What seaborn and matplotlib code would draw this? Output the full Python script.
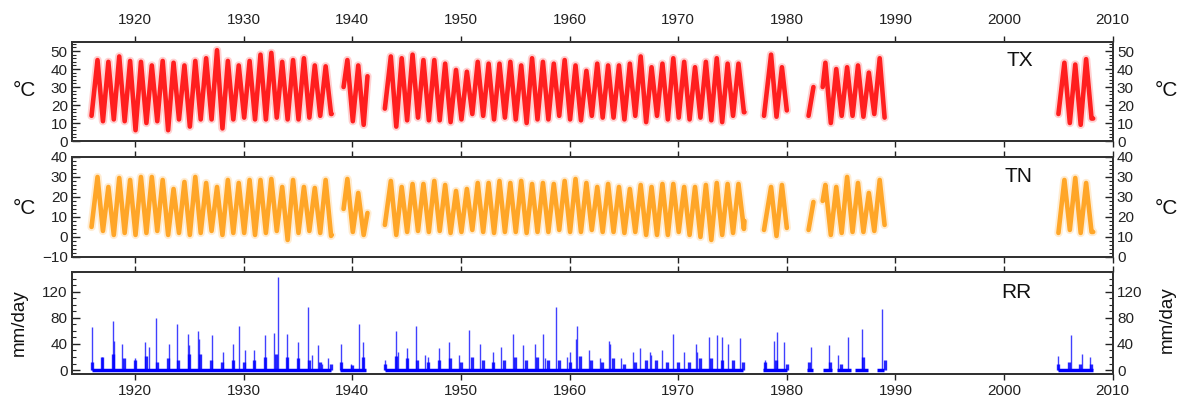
import matplotlib
matplotlib.use("Agg")
import matplotlib.pyplot as plt
import matplotlib.ticker as mticker
import pandas as pd
import seaborn as sns

# continuous stretches of the station record (decimal years)
seg_start = [1916.0, 1939.2, 1943.0, 1977.9, 1982.0, 1983.3, 2005.0]
seg_end = [1938.1, 1941.4, 1976.1, 1980.0, 1982.45, 1989.0, 2008.2]

# value at the first / last day of each stretch
tx_seg_v0 = [14, 30, 18, 14, 14, 30, 15]
tx_seg_v1 = [15, 36, 16, 17, 30, 13, 12.5]
tn_seg_v0 = [5, 14, 6, 3.5, 3.5, 18, 2]
tn_seg_v1 = [1, 12, 8, 4.5, 17.5, 6, 2.5]

# summer maxima (mid-year)
peak_years = [*range(1916, 1938), 1939, 1940, *range(1943, 1976),
              1978, 1979, *range(1983, 1989), 2005, 2006, 2007]
tx_peak = [45, 44, 47, 44.5, 44, 42, 44.5, 43.5, 42, 44.5, 46, 50.5, 44.5, 42, 44.5,
           48, 49, 44, 45, 46, 42, 41.5,
           45, 42,
           47, 46, 48, 45, 45, 43, 39.5, 38.5, 44, 43, 43, 44, 42, 46, 44, 43, 45, 42,
           39, 43, 42, 42, 43, 47, 41, 43, 46, 44, 41, 44, 46, 43, 43,
           48, 41,
           43.5, 40, 41, 42, 38, 46,
           43.5, 42.5, 45.5]
tn_peak = [30, 25, 29.5, 28.5, 30, 30, 28.5, 24, 27.5, 30, 27, 25, 28.5, 27, 28.5,
           28.5, 29, 25, 28.5, 25, 24.5, 28.5,
           29, 22,
           28, 25, 26.5, 26.5, 28, 26, 23, 24, 27, 27, 28, 27, 28, 26.5, 27, 26.5, 28,
           29, 27, 25, 26.5, 25, 24, 26, 25, 26.5, 26.5, 25, 25, 26, 27, 26.5, 26.5,
           25, 26,
           26, 25, 30, 27, 22, 28.5,
           28.5, 29.5, 27]

# winter minima (early in the year)
trough_years = [*range(1917, 1939), 1940, 1941, *range(1944, 1977),
                1979, *range(1984, 1989), 2006, 2007, 2008]
tx_trough = [11, 12, 11, 6, 10, 11, 6, 12, 8, 12, 12, 7, 12, 13, 12, 12, 13, 12, 12,
             13, 14, 15,
             11, 9,
             8, 11.5, 13, 11.5, 11.5, 10.5, 12, 15, 14, 12, 13, 12, 10, 12, 12, 14,
             12, 11.5, 14, 13, 13, 12, 14, 10.5, 14, 12, 13, 12, 13, 11.5, 10.5, 14, 16,
             13.5,
             10, 14, 14, 13.5, 15,
             10, 9, 12.5]
tn_trough = [3, 1, 2, 1, 2, 3, 1, 2, 1, 2, 3, 1, 2, 2, 1, 2, 3, -1.5, 2, 3, 2, 0.5,
             2.5, 1,
             1, 2.5, 3, 2.5, 3, 2, 2.5, 3.5, 2.5, 2, 2.5, 2.5, 2, 2.5, 2.5, 3.5, 2.5,
             2.5, 3.5, 2.5, 2.5, 2, 2.5, 1, 1, 1, 2.5, 1, 0, -1.5, 1, 2, 4,
             0.5,
             1, 2, 2.5, 2.5, 3,
             3.5, 2, 2.5]

# daily rainfall: the single wet days that stand out (date, mm/day)
rr_dates = [1916.05, 1917.0, 1917.95, 1918.05, 1918.8, 1920.0, 1920.9, 1921.3, 1921.9,
            1923.1, 1923.9, 1924.9, 1925.0, 1925.8, 1925.9, 1927.1, 1928.1, 1929.05,
            1929.6, 1930.1, 1931.0, 1932.0, 1932.8, 1933.15, 1934.0, 1935.0, 1935.9,
            1936.3, 1936.8, 1937.2, 1937.8, 1939.0, 1939.9, 1940.6, 1941.0, 1943.0,
            1944.05, 1944.2, 1945.0, 1945.9, 1946.7, 1947.0, 1948.0, 1948.9, 1949.8,
            1950.75, 1951.8, 1952.95, 1953.7, 1954.8, 1955.7, 1956.8, 1957.6, 1957.7,
            1958.75, 1959.75, 1960.0, 1960.6, 1960.7, 1961.8, 1962.8, 1963.6, 1963.7,
            1964.7, 1965.85, 1966.5, 1967.4, 1967.5, 1968.5, 1969.5, 1970.5, 1971.6,
            1971.7, 1972.8, 1973.6, 1974.0, 1974.6, 1975.7, 1978.0, 1978.8, 1979.1,
            1979.7, 1982.2, 1983.9, 1984.7, 1985.6, 1986.9, 1988.8, 2005.0, 2006.2,
            2007.2, 2007.9]
rr_vals = [66, 20, 75, 45, 40, 18, 43, 35, 79,
           40, 70, 55, 38, 60, 48, 53, 28, 40,
           67, 30, 30, 53, 57, 143, 55, 43, 96,
           23, 38, 10, 18, 40, 10, 70, 43, 15,
           60, 28, 33, 67, 23, 20, 33, 43, 23,
           62, 40, 28, 35, 55, 38, 40, 55, 18,
           96, 20, 28, 48, 67, 30, 18, 45, 40,
           18, 28, 33, 28, 23, 30, 55, 28, 40,
           28, 50, 53, 51, 40, 49, 15, 45, 58,
           43, 36, 39, 23, 50, 63, 93, 22, 53,
           24, 20]

# the dense run of smaller wet days in each rainy season
rr_bulk_years = [*range(1916, 1939), 1939, 1940, 1941, *range(1943, 1977),
                 1978, 1979, 1980, 1982, 1984, 1985, 1987, 1989,
                 2005, 2006, 2007, 2008]
rr_bulk = [12, 20, 25, 18, 15, 22, 12, 18, 15, 25, 25, 15, 12, 15, 12, 15, 20, 25,
           20, 18, 15, 12, 10,
           12, 8, 20,
           10, 22, 18, 15, 12, 15, 18, 12, 20, 15, 12, 15, 20, 15, 20, 15, 15, 12,
           22, 15, 12, 18, 10, 12, 15, 15, 12, 12, 12, 18, 18, 15, 15, 12,
           12, 15, 10, 12, 12, 10, 20, 15,
           10, 12, 10, 10]

# stretches with rain observations
rr_start = [1916.0, 1938.9, 1943.0, 1977.8, 1981.9, 1983.3, 1984.6, 1986.3, 1988.3, 2005.0]
rr_end = [1938.0, 1941.3, 1976.0, 1980.0, 1982.4, 1984.2, 1985.9, 1987.5, 1988.9, 2008.2]

tn_right_labels = ["0", "10", "20", "30", "30", "40"]


def build_series(v0, v1, troughs, peaks):
    rows = []
    for k, (a, b) in enumerate(zip(seg_start, seg_end)):
        pts = [(a, v0[k]), (b, v1[k])]
        pts += [(y + 0.05, v) for y, v in zip(trough_years, troughs) if a < y + 0.05 < b]
        pts += [(y + 0.55, v) for y, v in zip(peak_years, peaks) if a < y + 0.55 < b]
        for t, v in sorted(pts):
            rows.append({"year": t, "value": v, "seg": k})
    return pd.DataFrame(rows)


def style_axes(ax, ylim, yticks, minor, right_labels):
    ax.set_xlim(1914.2, 2010)
    ax.set_ylim(*ylim)
    ax.set_yticks(yticks)
    ax.yaxis.set_minor_locator(mticker.MultipleLocator(minor))
    ax.set_xticks(range(1920, 2011, 10))
    ax.set_xlabel("")
    ax.set_ylabel("")
    ax.tick_params(axis="y", which="major", direction="in", length=6, width=1,
                   labelsize=11, pad=3, colors="#222222")
    ax.tick_params(axis="y", which="minor", direction="in", length=3, width=0.8)
    ax.tick_params(axis="x", direction="out", length=4, width=1, top=True, bottom=True,
                   labeltop=False, labelbottom=False, labelsize=11, colors="#222222")
    for s in ax.spines.values():
        s.set_color("#333333")
        s.set_linewidth(1.4)
    ax2 = ax.twinx()
    ax2.set_ylim(*ylim)
    ax2.set_yticks(yticks)
    ax2.set_yticklabels(right_labels)
    ax2.yaxis.set_minor_locator(mticker.MultipleLocator(minor))
    ax2.tick_params(axis="y", which="major", direction="in", length=6, width=1,
                    labelsize=11, pad=3, colors="#222222")
    ax2.tick_params(axis="y", which="minor", direction="in", length=3, width=0.8)
    for s in ax2.spines.values():
        s.set_color("#333333")
        s.set_linewidth(1.4)
    return ax2


sns.set_theme(style="white")
plt.rcParams["font.family"] = ["Liberation Sans", "DejaVu Sans"]
plt.rcParams["axes.unicode_minus"] = True

fig = plt.figure(figsize=(11.8, 3.99), dpi=100)
ax_tx = fig.add_axes([0.061, 0.6466, 0.882, 0.248])
ax_tn = fig.add_axes([0.061, 0.356, 0.882, 0.2506])
ax_rr = fig.add_axes([0.061, 0.0627, 0.882, 0.2556])

tx = build_series(tx_seg_v0, tx_seg_v1, tx_trough, tx_peak)
tn = build_series(tn_seg_v0, tn_seg_v1, tn_trough, tn_peak)

for ax, df, col in [(ax_tx, tx, "#ff0000"), (ax_tn, tn, "#ff9a0a")]:
    sns.lineplot(data=df, x="year", y="value", units="seg", estimator=None,
                 color=col, lw=6, alpha=0.18, ax=ax)
    sns.lineplot(data=df, x="year", y="value", units="seg", estimator=None,
                 color=col, lw=3.3, alpha=0.85, ax=ax)

blue = "#0000ff"
ax_rr.hlines([0] * len(rr_start), rr_start, rr_end, color=blue, lw=2.5)
ax_rr.vlines(rr_bulk_years, 0, rr_bulk, color=blue, lw=2.4, alpha=0.85)
ax_rr.vlines(rr_dates, 0, rr_vals, color=blue, lw=1.0, alpha=0.75)

t_tx = style_axes(ax_tx, (0, 55), range(0, 51, 10), 2, [str(v) for v in range(0, 51, 10)])
t_tn = style_axes(ax_tn, (-10, 40), range(-10, 41, 10), 2, tn_right_labels)
t_rr = style_axes(ax_rr, (-6, 150), range(0, 121, 40), 10, ["0", "40", "80", "120"])

ax_tx.tick_params(axis="x", labeltop=True, pad=7)
ax_rr.tick_params(axis="x", labelbottom=True, pad=3.5)

fig.text(1020 / 1180, 1 - 61 / 399, "TX", ha="center", va="center", fontsize=15, color="#111111")
fig.text(1018 / 1180, 1 - 176 / 399, "TN", ha="center", va="center", fontsize=15, color="#111111")
fig.text(1016 / 1180, 1 - 292 / 399, "RR", ha="center", va="center", fontsize=15, color="#111111")

fig.text(24 / 1180, 1 - 90 / 399, "°C", ha="center", va="center", fontsize=15, color="#111111")
fig.text(24 / 1180, 1 - 208 / 399, "°C", ha="center", va="center", fontsize=15, color="#111111")
fig.text(1166 / 1180, 1 - 91 / 399, "°C", ha="center", va="center", fontsize=15, color="#111111")
fig.text(1166 / 1180, 1 - 208 / 399, "°C", ha="center", va="center", fontsize=15, color="#111111")
fig.text(19 / 1180, 1 - 323 / 399, "mm/day", ha="center", va="center", rotation=90,
         fontsize=13.5, color="#111111")
fig.text(1167 / 1180, 1 - 320 / 399, "mm/day", ha="center", va="center", rotation=90,
         fontsize=13.5, color="#111111")

fig.savefig("out.png", dpi=100)
